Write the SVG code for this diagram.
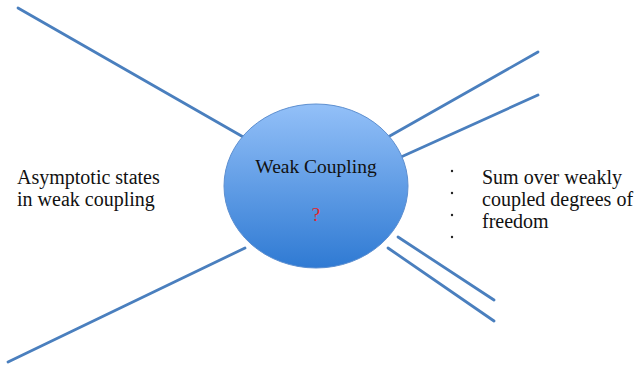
<svg xmlns="http://www.w3.org/2000/svg" width="641" height="367" viewBox="0 0 641 367">
<defs>
<linearGradient id="g" x1="0" y1="0" x2="0" y2="1">
<stop offset="0" stop-color="#93c0f8"/>
<stop offset="1" stop-color="#2f7ad3"/>
</linearGradient>
</defs>
<style>
.ln{stroke:#4a7fbe;stroke-width:2.8;fill:none;stroke-linecap:round}
.dot{fill:#222}
</style>
<rect width="641" height="367" fill="#fff"/>
<g id="connectors">
<line class="ln" x1="18" y1="8" x2="245" y2="138"/>
<line class="ln" x1="8" y1="362" x2="245" y2="248"/>
<line class="ln" x1="538" y1="52" x2="388" y2="137"/>
<line class="ln" x1="538" y1="95" x2="401" y2="157"/>
<line class="ln" x1="398" y1="237" x2="494" y2="300"/>
<line class="ln" x1="388" y1="248" x2="494" y2="321"/>
</g>
<g id="center" font-family="Liberation Serif, serif">
<ellipse cx="316" cy="186" rx="92" ry="82" fill="url(#g)" stroke="#5d8fd0" stroke-width="1"/>
<text x="316" y="173" font-size="19.5" text-anchor="middle" fill="#111">Weak Coupling</text>
<text x="316" y="221" font-size="19" text-anchor="middle" fill="#e0262b">?</text>
</g>
<g id="left" font-family="Liberation Serif, serif" font-size="20" fill="#111">
<text x="17" y="184">Asymptotic states</text>
<text x="17" y="206">in weak coupling</text>
</g>
<g id="right" font-family="Liberation Serif, serif" font-size="20" fill="#111">
<circle class="dot" cx="452" cy="171" r="1.2"/>
<circle class="dot" cx="452" cy="193" r="1.2"/>
<circle class="dot" cx="452" cy="215" r="1.2"/>
<circle class="dot" cx="452" cy="237" r="1.2"/>
<text x="482" y="184">Sum over weakly</text>
<text x="482" y="206">coupled degrees of</text>
<text x="482" y="228">freedom</text>
</g>
</svg>
